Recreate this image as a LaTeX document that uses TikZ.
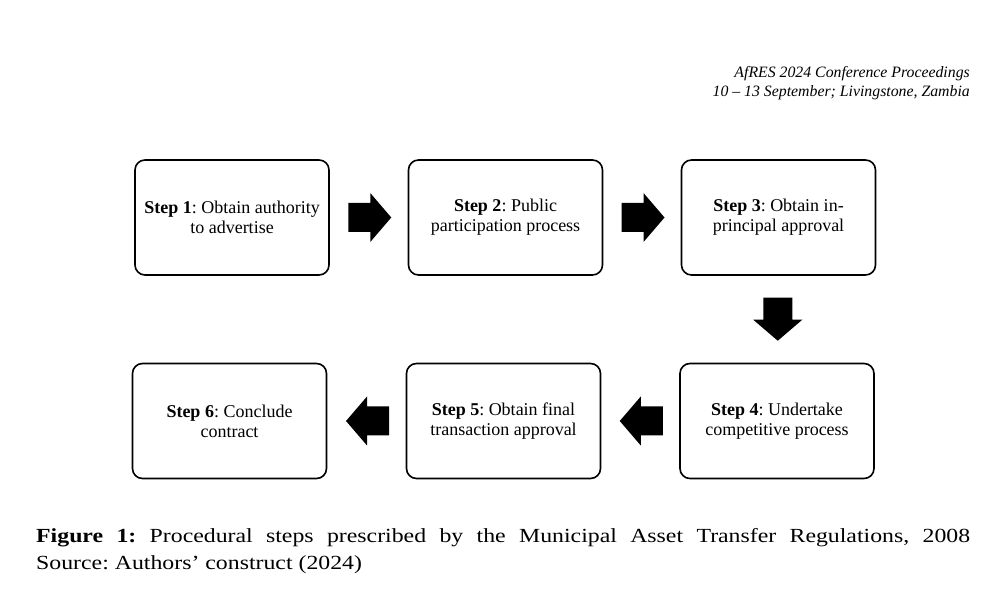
\documentclass[tikz,border=0pt]{standalone}
\usepackage{fontspec}
\setmainfont{Liberation Serif}
\newfontfamily\capfont[FakeStretch=1.19]{Liberation Serif}
\usetikzlibrary{calc}
\begin{document}
\frenchspacing
\begin{tikzpicture}[x=1pt,y=-1pt,
  stepbox/.style={draw=black,line width=1.6pt,rounded corners=10pt,fill=white,
    minimum width=194pt,minimum height=115pt,inner sep=0pt,align=center,
    font=\fontsize{18}{20}\selectfont},
  blockarrow/.pic={\fill[black] (-21.5,-14.5) -- (0.5,-14.5) -- (0.5,-24.5) -- (21.5,0)
     -- (0.5,24.5) -- (0.5,14.5) -- (-21.5,14.5) -- cycle;}
]
\useasboundingbox[fill=white] (0,0) rectangle (1005,593);

\node[align=right,anchor=north east,inner sep=0pt,
  font=\fontsize{15.8}{18.2}\selectfont\itshape] (hdr) at (970,66.5)
  {AfRES 2024 Conference Proceedings\\10 -- 13 September; Livingstone, Zambia};

\node[stepbox] (s1) at (232,217.5) {\textbf{Step 1}: Obtain authority\\to advertise};
\node[stepbox] (s2) at (505.5,217.5) {\textbf{Step 2}: Public\\participation process};
\node[stepbox] (s3) at (778.5,217.5) {\textbf{Step 3}: Obtain in-\\principal approval};
\node[stepbox] (s4) at (777,421) {\textbf{Step 4}: Undertake\\competitive process};
\node[stepbox] (s5) at (503.5,421) {\textbf{Step 5}: Obtain final\\transaction approval};
\node[stepbox] (s6) at (229.5,421) {\textbf{Step 6}: Conclude\\contract};

\coordinate (a12) at ($(s1.east)!0.5!(s2.west)$);
\coordinate (a23) at ($(s2.east)!0.5!(s3.west)$);
\coordinate (a34) at ($(s3.south)!0.5!(s4.north)$);
\coordinate (a45) at ($(s4.west)!0.5!(s5.east)$);
\coordinate (a56) at ($(s5.west)!0.5!(s6.east)$);

\pic at ([xshift=1pt]a12) {blockarrow};
\pic at ([xshift=1pt]a23) {blockarrow};
\pic[rotate=-90] at (a34) {blockarrow};
\pic[rotate=180] at ([xshift=1pt]a45) {blockarrow};
\pic[rotate=180] at ([xshift=1pt]a56) {blockarrow};

\node[anchor=north west,inner sep=0pt,align=left,
  font=\capfont\fontsize{20}{27}\selectfont] (cap) at (36,528)
  {\hbox to 934pt{\textbf{Figure 1:} Procedural steps prescribed by the Municipal Asset Transfer Regulations, 2008}\\
   Source: Authors’ construct (2024)};
\end{tikzpicture}
\end{document}
